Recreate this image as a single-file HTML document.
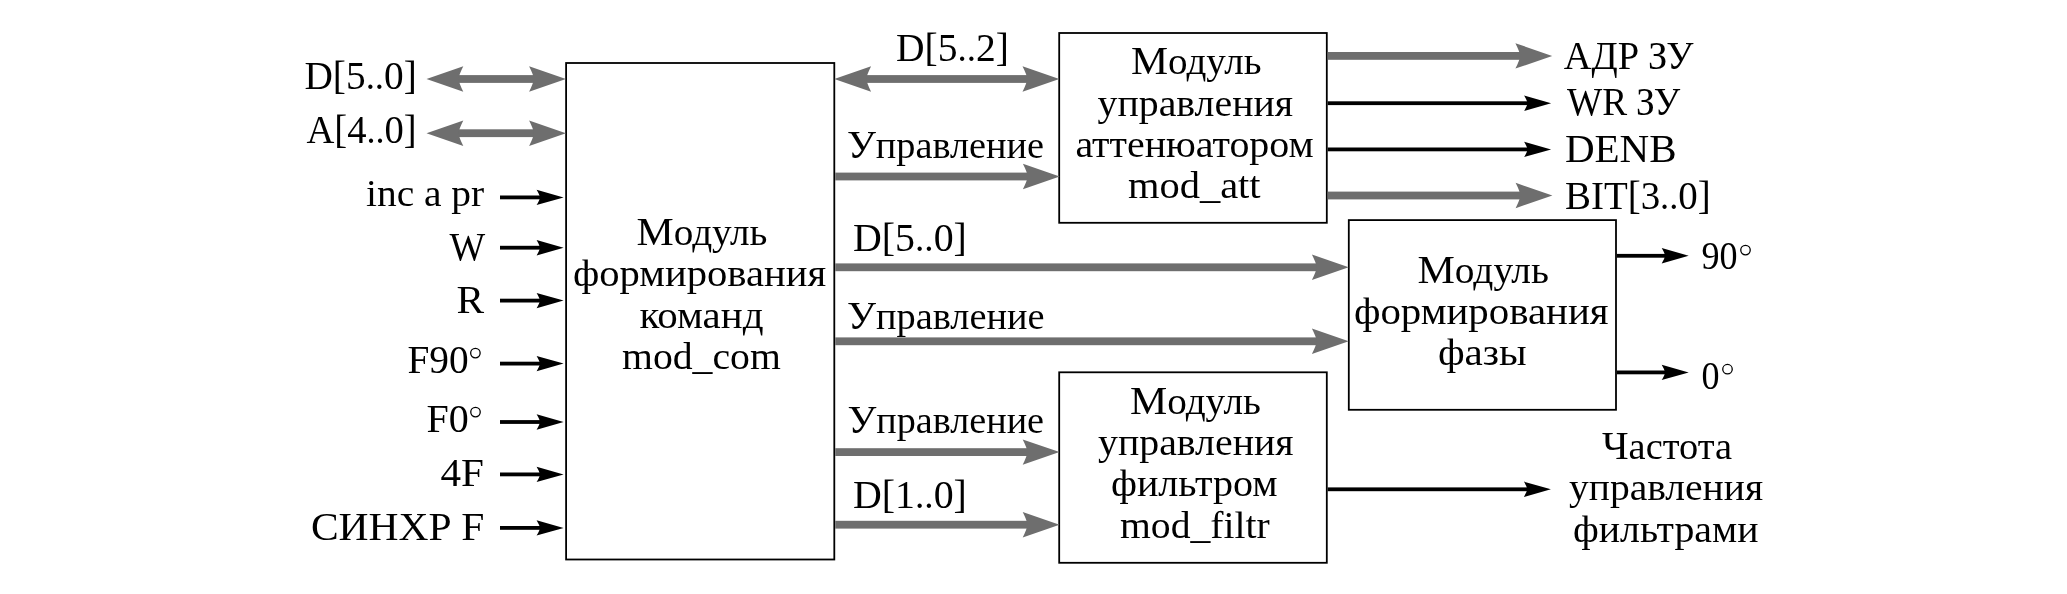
<!DOCTYPE html>
<html><head><meta charset="utf-8"><style>
html,body{margin:0;padding:0;background:#fff;}
svg{display:block;will-change:transform;}
text{font-family:"Liberation Serif",serif;fill:#000;font-size:37px;}
.B{font-size:39.5px;}
.s{font-size:37px;}
</style></head><body>
<svg width="2067" height="594" viewBox="0 0 2067 594">
<rect width="2067" height="594" fill="#fff"/>
<rect x="566.1" y="63.0" width="268.2" height="496.49999999999994" fill="none" stroke="#000" stroke-width="1.8"/>
<rect x="1059.2" y="33.0" width="267.6000000000001" height="189.79999999999998" fill="none" stroke="#000" stroke-width="1.8"/>
<rect x="1348.8000000000002" y="220.1" width="267.2" height="189.7" fill="none" stroke="#000" stroke-width="1.8"/>
<rect x="1059.2" y="372.29999999999995" width="267.6000000000001" height="190.50000000000006" fill="none" stroke="#000" stroke-width="1.8"/>
<rect x="456.5" y="75.1" width="79.40000000000009" height="7.8" fill="#6e6e6e"/>
<path d="M565.90,79.00 L529.10,66.30 Q533.30,74.56 533.90,79.00 Q533.30,83.44 529.10,91.70 Z" fill="#6e6e6e"/>
<path d="M426.50,79.00 L463.30,66.30 Q459.10,74.56 458.50,79.00 Q459.10,83.44 463.30,91.70 Z" fill="#6e6e6e"/>
<rect x="456.5" y="129.29999999999998" width="79.40000000000009" height="7.8" fill="#6e6e6e"/>
<path d="M565.90,133.20 L529.10,120.50 Q533.30,128.75 533.90,133.20 Q533.30,137.64 529.10,145.90 Z" fill="#6e6e6e"/>
<path d="M426.50,133.20 L463.30,120.50 Q459.10,128.75 458.50,133.20 Q459.10,137.64 463.30,145.90 Z" fill="#6e6e6e"/>
<rect x="500.0" y="195.5" width="41.60000000000002" height="3.8" fill="#000"/>
<path d="M563.60,197.40 L536.60,189.70 Q539.60,194.71 540.00,197.40 Q539.60,200.09 536.60,205.10 Z" fill="#000"/>
<rect x="500.0" y="245.79999999999998" width="41.60000000000002" height="3.8" fill="#000"/>
<path d="M563.60,247.70 L536.60,240.00 Q539.60,245.00 540.00,247.70 Q539.60,250.39 536.60,255.40 Z" fill="#000"/>
<rect x="500.0" y="298.70000000000005" width="41.60000000000002" height="3.8" fill="#000"/>
<path d="M563.60,300.60 L536.60,292.90 Q539.60,297.91 540.00,300.60 Q539.60,303.30 536.60,308.30 Z" fill="#000"/>
<rect x="500.0" y="361.70000000000005" width="41.60000000000002" height="3.8" fill="#000"/>
<path d="M563.60,363.60 L536.60,355.90 Q539.60,360.91 540.00,363.60 Q539.60,366.30 536.60,371.30 Z" fill="#000"/>
<rect x="500.0" y="420.1" width="41.60000000000002" height="3.8" fill="#000"/>
<path d="M563.60,422.00 L536.60,414.30 Q539.60,419.31 540.00,422.00 Q539.60,424.69 536.60,429.70 Z" fill="#000"/>
<rect x="500.0" y="472.5" width="41.60000000000002" height="3.8" fill="#000"/>
<path d="M563.60,474.40 L536.60,466.70 Q539.60,471.70 540.00,474.40 Q539.60,477.09 536.60,482.10 Z" fill="#000"/>
<rect x="500.0" y="526.0" width="41.60000000000002" height="3.8" fill="#000"/>
<path d="M563.60,527.90 L536.60,520.20 Q539.60,525.20 540.00,527.90 Q539.60,530.60 536.60,535.60 Z" fill="#000"/>
<rect x="864.3" y="75.1" width="165.0" height="7.8" fill="#6e6e6e"/>
<path d="M1059.30,79.00 L1022.50,66.30 Q1026.70,74.56 1027.30,79.00 Q1026.70,83.44 1022.50,91.70 Z" fill="#6e6e6e"/>
<path d="M834.30,79.00 L871.10,66.30 Q866.90,74.56 866.30,79.00 Q866.90,83.44 871.10,91.70 Z" fill="#6e6e6e"/>
<rect x="835.2" y="172.6" width="194.5" height="7.8" fill="#6e6e6e"/>
<path d="M1059.70,176.50 L1022.90,163.80 Q1027.10,172.06 1027.70,176.50 Q1027.10,180.94 1022.90,189.20 Z" fill="#6e6e6e"/>
<rect x="835.2" y="263.40000000000003" width="483.5" height="7.8" fill="#6e6e6e"/>
<path d="M1348.70,267.30 L1311.90,254.60 Q1316.10,262.86 1316.70,267.30 Q1316.10,271.75 1311.90,280.00 Z" fill="#6e6e6e"/>
<rect x="835.2" y="337.40000000000003" width="483.5" height="7.8" fill="#6e6e6e"/>
<path d="M1348.70,341.30 L1311.90,328.60 Q1316.10,336.86 1316.70,341.30 Q1316.10,345.75 1311.90,354.00 Z" fill="#6e6e6e"/>
<rect x="835.2" y="448.20000000000005" width="194.29999999999995" height="7.8" fill="#6e6e6e"/>
<path d="M1059.50,452.10 L1022.70,439.40 Q1026.90,447.66 1027.50,452.10 Q1026.90,456.55 1022.70,464.80 Z" fill="#6e6e6e"/>
<rect x="835.2" y="520.8000000000001" width="194.29999999999995" height="7.8" fill="#6e6e6e"/>
<path d="M1059.50,524.70 L1022.70,512.00 Q1026.90,520.25 1027.50,524.70 Q1026.90,529.15 1022.70,537.40 Z" fill="#6e6e6e"/>
<rect x="1327.7" y="52.0" width="194.5" height="7.8" fill="#6e6e6e"/>
<path d="M1552.20,55.90 L1515.40,43.20 Q1519.60,51.45 1520.20,55.90 Q1519.60,60.34 1515.40,68.60 Z" fill="#6e6e6e"/>
<rect x="1327.7" y="101.3" width="201.39999999999986" height="3.8" fill="#000"/>
<path d="M1551.10,103.20 L1524.10,95.50 Q1527.10,100.51 1527.50,103.20 Q1527.10,105.89 1524.10,110.90 Z" fill="#000"/>
<rect x="1327.7" y="147.5" width="201.39999999999986" height="3.8" fill="#000"/>
<path d="M1551.10,149.40 L1524.10,141.70 Q1527.10,146.71 1527.50,149.40 Q1527.10,152.09 1524.10,157.10 Z" fill="#000"/>
<rect x="1327.7" y="191.6" width="194.70000000000005" height="7.8" fill="#6e6e6e"/>
<path d="M1552.40,195.50 L1515.60,182.80 Q1519.80,191.06 1520.40,195.50 Q1519.80,199.94 1515.60,208.20 Z" fill="#6e6e6e"/>
<rect x="1616.9" y="253.9" width="49.799999999999955" height="3.8" fill="#000"/>
<path d="M1688.70,255.80 L1661.70,248.10 Q1664.70,253.11 1665.10,255.80 Q1664.70,258.50 1661.70,263.50 Z" fill="#000"/>
<rect x="1616.9" y="370.5" width="49.799999999999955" height="3.8" fill="#000"/>
<path d="M1688.70,372.40 L1661.70,364.70 Q1664.70,369.70 1665.10,372.40 Q1664.70,375.09 1661.70,380.10 Z" fill="#000"/>
<rect x="1327.7" y="487.40000000000003" width="201.20000000000005" height="3.8" fill="#000"/>
<path d="M1550.90,489.30 L1523.90,481.60 Q1526.90,486.61 1527.30,489.30 Q1526.90,492.00 1523.90,497.00 Z" fill="#000"/>
<circle cx="475.4" cy="353.1" r="4.75" fill="none" stroke="#000" stroke-width="1.3"/>
<circle cx="475.5" cy="412.1" r="4.75" fill="none" stroke="#000" stroke-width="1.3"/>
<circle cx="1745.5" cy="250.1" r="4.75" fill="none" stroke="#000" stroke-width="1.3"/>
<circle cx="1727.5" cy="369.2" r="4.75" fill="none" stroke="#000" stroke-width="1.3"/>
<text x="304.48" y="89.00" textLength="112.31" lengthAdjust="spacingAndGlyphs"><tspan class="B">D[5</tspan><tspan class="s">..</tspan><tspan class="B">0]</tspan></text>
<text x="306.50" y="143.00" textLength="110.24" lengthAdjust="spacingAndGlyphs"><tspan class="B">A[4</tspan><tspan class="s">..</tspan><tspan class="B">0]</tspan></text>
<text x="365.98" y="205.80" textLength="118.26" lengthAdjust="spacingAndGlyphs"><tspan class="s">inc a pr</tspan></text>
<text x="449.49" y="259.50" textLength="35.68" lengthAdjust="spacingAndGlyphs"><tspan class="B">W</tspan></text>
<text x="456.41" y="313.00" textLength="27.62" lengthAdjust="spacingAndGlyphs"><tspan class="B">R</tspan></text>
<text x="407.46" y="372.80" textLength="61.21" lengthAdjust="spacingAndGlyphs"><tspan class="B">F90</tspan></text>
<text x="426.44" y="431.80" textLength="42.25" lengthAdjust="spacingAndGlyphs"><tspan class="B">F0</tspan></text>
<text x="440.48" y="485.80" textLength="43.41" lengthAdjust="spacingAndGlyphs"><tspan class="B">4F</tspan></text>
<text x="310.92" y="539.80" textLength="173.46" lengthAdjust="spacingAndGlyphs"><tspan class="B">СИНХР</tspan><tspan class="s"> </tspan><tspan class="B">F</tspan></text>
<text x="895.98" y="61.00" textLength="112.82" lengthAdjust="spacingAndGlyphs"><tspan class="B">D[5</tspan><tspan class="s">..</tspan><tspan class="B">2]</tspan></text>
<text x="846.97" y="157.80" textLength="197.03" lengthAdjust="spacingAndGlyphs"><tspan class="B">У</tspan><tspan class="s">правление</tspan></text>
<text x="852.97" y="251.00" textLength="113.86" lengthAdjust="spacingAndGlyphs"><tspan class="B">D[5</tspan><tspan class="s">..</tspan><tspan class="B">0]</tspan></text>
<text x="846.97" y="328.70" textLength="197.54" lengthAdjust="spacingAndGlyphs"><tspan class="B">У</tspan><tspan class="s">правление</tspan></text>
<text x="847.47" y="432.80" textLength="196.53" lengthAdjust="spacingAndGlyphs"><tspan class="B">У</tspan><tspan class="s">правление</tspan></text>
<text x="852.97" y="507.80" textLength="113.86" lengthAdjust="spacingAndGlyphs"><tspan class="B">D[1</tspan><tspan class="s">..</tspan><tspan class="B">0]</tspan></text>
<text x="636.44" y="244.80" textLength="131.03" lengthAdjust="spacingAndGlyphs"><tspan class="B">М</tspan><tspan class="s">одуль</tspan></text>
<text x="572.93" y="285.80" textLength="253.20" lengthAdjust="spacingAndGlyphs"><tspan class="s">формирования</tspan></text>
<text x="639.49" y="327.80" textLength="124.01" lengthAdjust="spacingAndGlyphs"><tspan class="s">команд</tspan></text>
<text x="622.00" y="368.90" textLength="158.76" lengthAdjust="spacingAndGlyphs"><tspan class="s">mod_com</tspan></text>
<text x="1130.95" y="73.70" textLength="130.52" lengthAdjust="spacingAndGlyphs"><tspan class="B">М</tspan><tspan class="s">одуль</tspan></text>
<text x="1097.50" y="115.90" textLength="195.63" lengthAdjust="spacingAndGlyphs"><tspan class="s">управления</tspan></text>
<text x="1075.45" y="156.70" textLength="238.27" lengthAdjust="spacingAndGlyphs"><tspan class="s">аттенюатором</tspan></text>
<text x="1127.98" y="197.60" textLength="132.64" lengthAdjust="spacingAndGlyphs"><tspan class="s">mod_att</tspan></text>
<text x="1417.44" y="282.80" textLength="131.55" lengthAdjust="spacingAndGlyphs"><tspan class="B">М</tspan><tspan class="s">одуль</tspan></text>
<text x="1353.93" y="323.80" textLength="254.71" lengthAdjust="spacingAndGlyphs"><tspan class="s">формирования</tspan></text>
<text x="1437.90" y="364.80" textLength="88.86" lengthAdjust="spacingAndGlyphs"><tspan class="s">фазы</tspan></text>
<text x="1129.95" y="413.80" textLength="131.03" lengthAdjust="spacingAndGlyphs"><tspan class="B">М</tspan><tspan class="s">одуль</tspan></text>
<text x="1098.00" y="454.80" textLength="195.62" lengthAdjust="spacingAndGlyphs"><tspan class="s">управления</tspan></text>
<text x="1110.95" y="495.70" textLength="166.78" lengthAdjust="spacingAndGlyphs"><tspan class="s">фильтром</tspan></text>
<text x="1119.99" y="537.80" textLength="149.76" lengthAdjust="spacingAndGlyphs"><tspan class="s">mod_filtr</tspan></text>
<text x="1563.75" y="68.70" textLength="129.84" lengthAdjust="spacingAndGlyphs"><tspan class="B">АДР</tspan><tspan class="s"> </tspan><tspan class="B">ЗУ</tspan></text>
<text x="1567.00" y="115.40" textLength="113.12" lengthAdjust="spacingAndGlyphs"><tspan class="B">WR</tspan><tspan class="s"> </tspan><tspan class="B">ЗУ</tspan></text>
<text x="1564.93" y="161.70" textLength="111.70" lengthAdjust="spacingAndGlyphs"><tspan class="B">DENB</tspan></text>
<text x="1564.99" y="209.00" textLength="145.78" lengthAdjust="spacingAndGlyphs"><tspan class="B">BIT[3</tspan><tspan class="s">..</tspan><tspan class="B">0]</tspan></text>
<text x="1701.53" y="269.40" textLength="36.06" lengthAdjust="spacingAndGlyphs"><tspan class="B">90</tspan></text>
<text x="1701.54" y="388.70" textLength="18.03" lengthAdjust="spacingAndGlyphs"><tspan class="B">0</tspan></text>
<text x="1602.00" y="458.80" textLength="129.98" lengthAdjust="spacingAndGlyphs"><tspan class="B">Ч</tspan><tspan class="s">астота</tspan></text>
<text x="1568.99" y="499.80" textLength="194.12" lengthAdjust="spacingAndGlyphs"><tspan class="s">управления</tspan></text>
<text x="1572.95" y="541.90" textLength="185.54" lengthAdjust="spacingAndGlyphs"><tspan class="s">фильтрами</tspan></text>
</svg>
</body></html>
